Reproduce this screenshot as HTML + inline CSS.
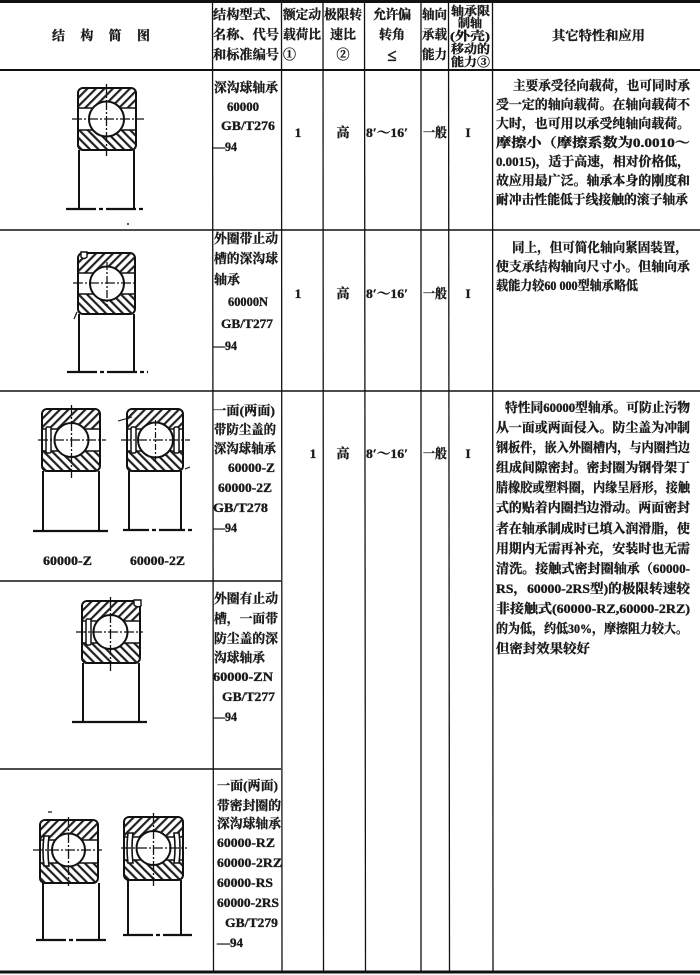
<!DOCTYPE html>
<html><head><meta charset="utf-8">
<style>
html,body{margin:0;padding:0;background:#fff;width:700px;height:975px;overflow:hidden;}
svg{display:block;}
text{stroke:#1a1a1a;stroke-width:0.35px;}
</style></head><body>
<svg width="700" height="975" viewBox="0 0 700 975" xmlns="http://www.w3.org/2000/svg" font-family="'Liberation Serif','Noto Serif CJK SC',serif" font-weight="bold" font-size="13">
<defs>
<pattern id="hf" patternUnits="userSpaceOnUse" width="6" height="6" patternTransform="rotate(45)"><rect x="0" y="0" width="2.2" height="6" fill="#222"/></pattern>
<pattern id="hb" patternUnits="userSpaceOnUse" width="6" height="6" patternTransform="rotate(-45)"><rect x="0" y="0" width="2.2" height="6" fill="#222"/></pattern>
</defs>
<rect x="0" y="0" width="700" height="975" fill="#fff"/>

<!-- table lines -->
<g stroke="#111" fill="none">
<line x1="0" y1="1.5" x2="700" y2="1.5" stroke-width="3"/>
<line x1="0" y1="70" x2="700" y2="70" stroke-width="2"/>
<line x1="0" y1="230" x2="700" y2="230" stroke-width="1.6"/>
<line x1="0" y1="391" x2="700" y2="391" stroke-width="1.6"/>
<line x1="0" y1="581" x2="281" y2="581" stroke-width="1.4"/>
<line x1="0" y1="769" x2="281" y2="769" stroke-width="1.4"/>
<line x1="0" y1="972" x2="700" y2="972" stroke-width="3"/>
<g stroke-width="1.3">
<line x1="212.5" y1="3" x2="213.5" y2="971"/>
<line x1="281.5" y1="3" x2="282" y2="971"/>
<line x1="323" y1="3" x2="323.5" y2="971"/>
<line x1="364.5" y1="3" x2="365.5" y2="971"/>
<line x1="421" y1="3" x2="421" y2="971"/>
<line x1="448.5" y1="3" x2="449.5" y2="971"/>
<line x1="492.5" y1="3" x2="493" y2="971"/>
</g>
</g>

<!-- header -->
<g fill="#1a1a1a">
<text x="52" y="40" textLength="98" lengthAdjust="spacing">结构简图</text>
<text x="213" y="19" textLength="66" lengthAdjust="spacingAndGlyphs">结构型式、</text>
<text x="213" y="39" textLength="66" lengthAdjust="spacingAndGlyphs">名称、代号</text>
<text x="213" y="59" textLength="66" lengthAdjust="spacingAndGlyphs">和标准编号</text>
<text x="283" y="19" textLength="38" lengthAdjust="spacingAndGlyphs">额定动</text>
<text x="283" y="39" textLength="38" lengthAdjust="spacingAndGlyphs">载荷比</text>
<text x="283" y="59">①</text>
<text x="324" y="19" textLength="38" lengthAdjust="spacingAndGlyphs">极限转</text>
<text x="343" y="39" text-anchor="middle">速比</text>
<text x="343" y="59" text-anchor="middle">②</text>
<text x="373" y="19" textLength="38" lengthAdjust="spacing">允许偏</text>
<text x="392" y="39" text-anchor="middle">转角</text>
<text x="392" y="61" text-anchor="middle" font-size="17">≤</text>
<text x="422" y="19" textLength="25" lengthAdjust="spacingAndGlyphs">轴向</text>
<text x="422" y="39" textLength="25" lengthAdjust="spacingAndGlyphs">承载</text>
<text x="422" y="59" textLength="25" lengthAdjust="spacingAndGlyphs">能力</text>
<g font-size="12">
<text x="451" y="15" textLength="39" lengthAdjust="spacingAndGlyphs">轴承限</text>
<text x="470" y="27" text-anchor="middle">制轴</text>
<text x="450" y="40" textLength="40" lengthAdjust="spacingAndGlyphs">(外壳)</text>
<text x="451" y="53" textLength="39" lengthAdjust="spacingAndGlyphs">移动的</text>
<text x="451" y="66" textLength="39" lengthAdjust="spacingAndGlyphs">能力③</text>
</g>
<text x="552" y="40" textLength="93" lengthAdjust="spacingAndGlyphs">其它特性和应用</text>
</g>

<!-- ============ Row 1 ============ -->
<g transform="translate(78,88)">
 <path d="M0,20V5Q0,0 5,0H53Q58,0 58,5V20Z" fill="url(#hf)"/>
 <path d="M0,42H58V57Q58,62 53,62H5Q0,62 0,57Z" fill="url(#hb)"/>
 <rect x="0" y="0" width="58" height="62" rx="5" fill="none" stroke="#111" stroke-width="2"/>
 <path d="M0,20H58M0,42H58" stroke="#111" stroke-width="1.4"/>
 <circle cx="28.5" cy="31" r="17.5" fill="#fff" stroke="#111" stroke-width="2"/>
</g>
<g stroke="#111" fill="none">
 <path d="M72,119H144" stroke-width="1.3" stroke-dasharray="10 2 2 2"/>
 <path d="M106.5,84V156" stroke-width="1.3" stroke-dasharray="10 2 2 2"/>
 <path d="M79,150V209M134,150V209" stroke-width="2"/>
 <path d="M66,209H144" stroke-width="2.2" stroke-dasharray="30 3 4 3"/>
</g>
<circle cx="128" cy="224" r="1" fill="#222"/>

<g fill="#1a1a1a">
<text x="214" y="92" textLength="64" lengthAdjust="spacingAndGlyphs">深沟球轴承</text>
<text x="227" y="111" textLength="32" lengthAdjust="spacingAndGlyphs">60000</text>
<text x="221" y="130" textLength="54" lengthAdjust="spacingAndGlyphs">GB/T276</text>
<text x="213" y="151" textLength="24" lengthAdjust="spacingAndGlyphs">—94</text>
<text x="298" y="137" text-anchor="middle">1</text>
<text x="343" y="137" text-anchor="middle">高</text>
<text x="366" y="137" textLength="42" lengthAdjust="spacingAndGlyphs">8′～16′</text>
<text x="423" y="137" textLength="24" lengthAdjust="spacingAndGlyphs">一般</text>
<text x="468" y="137" text-anchor="middle">I</text>

<text x="513" y="90" textLength="177" lengthAdjust="spacingAndGlyphs">主要承受径向载荷，也可同时承</text>
<text x="496" y="109" textLength="194" lengthAdjust="spacingAndGlyphs">受一定的轴向载荷。在轴向载荷不</text>
<text x="496" y="128" textLength="194" lengthAdjust="spacingAndGlyphs">大时，也可用以承受纯轴向载荷。</text>
<text x="496" y="147" textLength="194" lengthAdjust="spacingAndGlyphs">摩擦小（摩擦系数为0.0010～</text>
<text x="496" y="166" textLength="194" lengthAdjust="spacingAndGlyphs">0.0015)，适于高速，相对价格低，</text>
<text x="496" y="185" textLength="194" lengthAdjust="spacingAndGlyphs">故应用最广泛。轴承本身的刚度和</text>
<text x="496" y="204" textLength="192" lengthAdjust="spacingAndGlyphs">耐冲击性能低于线接触的滚子轴承</text>
</g>

<!-- ============ Row 2 ============ -->
<g transform="translate(78,253)">
 <path d="M0,20V5Q0,0 5,0H52Q57,0 57,5V20Z" fill="url(#hf)"/>
 <path d="M0,41H57V56Q57,61 52,61H5Q0,61 0,56Z" fill="url(#hb)"/>
 <rect x="0" y="0" width="57" height="61" rx="5" fill="none" stroke="#111" stroke-width="2"/>
 <path d="M0,20H57M0,41H57" stroke="#111" stroke-width="1.4"/>
 <path d="M3,-1 V4 Q6,7 9,4 V-1Z" fill="#fff" stroke="#111" stroke-width="1.4"/>
 <circle cx="29" cy="30.5" r="17" fill="#fff" stroke="#111" stroke-width="2"/>
</g>
<g stroke="#111" fill="none">
 <path d="M73,283H137" stroke-width="1.3" stroke-dasharray="10 2 2 2"/>
 <path d="M107,262V306" stroke-width="1.3" stroke-dasharray="8 2 2 2"/>
 <path d="M79,314V372M134,314V372" stroke-width="2"/>
 <path d="M67,372H148" stroke-width="2.2" stroke-dasharray="30 3 4 3"/>
 <path d="M74,319L77,312" stroke-width="1.2"/>
</g>

<g fill="#1a1a1a">
<text x="214" y="243" textLength="64" lengthAdjust="spacingAndGlyphs">外圈带止动</text>
<text x="214" y="263" textLength="64" lengthAdjust="spacingAndGlyphs">槽的深沟球</text>
<text x="214" y="284" textLength="26" lengthAdjust="spacingAndGlyphs">轴承</text>
<text x="228" y="306" textLength="40" lengthAdjust="spacingAndGlyphs">60000N</text>
<text x="221" y="328" textLength="52" lengthAdjust="spacingAndGlyphs">GB/T277</text>
<text x="213" y="350" textLength="24" lengthAdjust="spacingAndGlyphs">—94</text>
<text x="298" y="298" text-anchor="middle">1</text>
<text x="343" y="298" text-anchor="middle">高</text>
<text x="366" y="298" textLength="42" lengthAdjust="spacingAndGlyphs">8′～16′</text>
<text x="423" y="298" textLength="24" lengthAdjust="spacingAndGlyphs">一般</text>
<text x="468" y="298" text-anchor="middle">I</text>

<text x="512" y="252" textLength="176" lengthAdjust="spacingAndGlyphs">同上，但可简化轴向紧固装置，</text>
<text x="496" y="271" textLength="194" lengthAdjust="spacingAndGlyphs">使支承结构轴向尺寸小。但轴向承</text>
<text x="496" y="290" textLength="142" lengthAdjust="spacingAndGlyphs">载能力较60 000型轴承略低</text>
</g>

<!-- ============ Row 3 ============ -->
<g transform="translate(42,409)">
 <path d="M0,20V5Q0,0 5,0H53Q58,0 58,5V20Z" fill="url(#hf)"/>
 <path d="M0,42H58V57Q58,62 53,62H5Q0,62 0,57Z" fill="url(#hb)"/>
 <rect x="0" y="0" width="58" height="62" rx="5" fill="none" stroke="#111" stroke-width="2"/>
 <path d="M0,20H58M0,42H58" stroke="#111" stroke-width="1.4"/>
 <rect x="4" y="18" width="5" height="26" rx="1.5" fill="#fff" stroke="#111" stroke-width="1.5"/>
 <circle cx="29.5" cy="31" r="17" fill="#fff" stroke="#111" stroke-width="2"/>
</g>
<g stroke="#111" fill="none">
 <path d="M38,440H106" stroke-width="1.3" stroke-dasharray="10 2 2 2"/>
 <path d="M71.5,405V478" stroke-width="1.3" stroke-dasharray="10 2 2 2"/>
 <path d="M43,471V531M99,471V531" stroke-width="2"/>
 <path d="M33,531H108" stroke-width="2.2"/>
</g>
<g transform="translate(127,409)">
 <path d="M0,20V5Q0,0 5,0H51Q56,0 56,5V20Z" fill="url(#hf)"/>
 <path d="M0,42H56V57Q56,62 51,62H5Q0,62 0,57Z" fill="url(#hb)"/>
 <rect x="0" y="0" width="56" height="62" rx="5" fill="none" stroke="#111" stroke-width="2"/>
 <path d="M0,20H56M0,42H56" stroke="#111" stroke-width="1.4"/>
 <rect x="4" y="18" width="5" height="26" rx="1.5" fill="#fff" stroke="#111" stroke-width="1.5"/>
 <rect x="47" y="18" width="5" height="26" rx="1.5" fill="#fff" stroke="#111" stroke-width="1.5"/>
 <circle cx="28.5" cy="31" r="17.5" fill="#fff" stroke="#111" stroke-width="2"/>
</g>
<g stroke="#111" fill="none">
 <path d="M121,440H190" stroke-width="1.3" stroke-dasharray="10 2 2 2"/>
 <path d="M155.5,420V462" stroke-width="1.2" stroke-dasharray="6 2 2 2"/>
 <path d="M129,471V530M181,471V530" stroke-width="2"/>
 <path d="M123,530H194" stroke-width="2.2" stroke-dasharray="26 3 4 3"/>
 <path d="M118,421L132,417" stroke-width="1.1"/>
 <path d="M185,469L190,467" stroke-width="1.1"/>
</g>

<g fill="#1a1a1a">
<text x="43" y="565" textLength="49" lengthAdjust="spacingAndGlyphs">60000-Z</text>
<text x="130" y="565" textLength="55" lengthAdjust="spacingAndGlyphs">60000-2Z</text>

<text x="213" y="415" textLength="62" lengthAdjust="spacingAndGlyphs">一面(两面)</text>
<text x="214" y="434" textLength="62" lengthAdjust="spacingAndGlyphs">带防尘盖的</text>
<text x="214" y="453" textLength="62" lengthAdjust="spacingAndGlyphs">深沟球轴承</text>
<text x="228" y="472" textLength="47" lengthAdjust="spacingAndGlyphs">60000-Z</text>
<text x="218" y="492" textLength="54" lengthAdjust="spacingAndGlyphs">60000-2Z</text>
<text x="213" y="512" textLength="55" lengthAdjust="spacingAndGlyphs">GB/T278</text>
<text x="213" y="532" textLength="24" lengthAdjust="spacingAndGlyphs">—94</text>

<text x="313" y="458" text-anchor="middle">1</text>
<text x="343" y="458" text-anchor="middle">高</text>
<text x="366" y="458" textLength="42" lengthAdjust="spacingAndGlyphs">8′～16′</text>
<text x="423" y="458" textLength="24" lengthAdjust="spacingAndGlyphs">一般</text>
<text x="468" y="458" text-anchor="middle">I</text>

<text x="505" y="412" textLength="185" lengthAdjust="spacingAndGlyphs">特性同60000型轴承。可防止污物</text>
<text x="496" y="432" textLength="194" lengthAdjust="spacingAndGlyphs">从一面或两面侵入。防尘盖为冲制</text>
<text x="496" y="452" textLength="194" lengthAdjust="spacingAndGlyphs">钢板件，嵌入外圈槽内，与内圈挡边</text>
<text x="496" y="472" textLength="194" lengthAdjust="spacingAndGlyphs">组成间隙密封。密封圈为钢骨架丁</text>
<text x="496" y="492" textLength="194" lengthAdjust="spacingAndGlyphs">腈橡胶或塑料圈，内缘呈唇形，接触</text>
<text x="496" y="512" textLength="194" lengthAdjust="spacingAndGlyphs">式的贴着内圈挡边滑动。两面密封</text>
<text x="496" y="533" textLength="194" lengthAdjust="spacingAndGlyphs">者在轴承制成时已填入润滑脂，使</text>
<text x="496" y="553" textLength="194" lengthAdjust="spacingAndGlyphs">用期内无需再补充，安装时也无需</text>
<text x="496" y="573" textLength="194" lengthAdjust="spacingAndGlyphs">清洗。接触式密封圈轴承（60000-</text>
<text x="496" y="593" textLength="194" lengthAdjust="spacingAndGlyphs">RS，60000-2RS型)的极限转速较</text>
<text x="496" y="613" textLength="194" lengthAdjust="spacingAndGlyphs">非接触式(60000-RZ,60000-2RZ)</text>
<text x="496" y="633" textLength="192" lengthAdjust="spacingAndGlyphs">的为低，约低30%，摩擦阻力较大。</text>
<text x="496" y="653" textLength="94" lengthAdjust="spacingAndGlyphs">但密封效果较好</text>
</g>

<!-- ============ Row 4 ============ -->
<g transform="translate(82,601)">
 <path d="M0,20V5Q0,0 5,0H53Q58,0 58,5V20Z" fill="url(#hf)"/>
 <path d="M0,42H58V57Q58,62 53,62H5Q0,62 0,57Z" fill="url(#hb)"/>
 <rect x="0" y="0" width="58" height="62" rx="5" fill="none" stroke="#111" stroke-width="2"/>
 <path d="M0,20H58M0,42H58" stroke="#111" stroke-width="1.4"/>
 <path d="M52,-1 V4 Q55,7 59,5 V-1Z" fill="#fff" stroke="#111" stroke-width="1.4"/>
 <rect x="4" y="18" width="5" height="26" rx="1.5" fill="#fff" stroke="#111" stroke-width="1.5"/>
 <circle cx="28.5" cy="31" r="17" fill="#fff" stroke="#111" stroke-width="2"/>
</g>
<g stroke="#111" fill="none">
 <path d="M76,632H143" stroke-width="1.3" stroke-dasharray="10 2 2 2"/>
 <path d="M110.5,597V672" stroke-width="1.3" stroke-dasharray="10 2 2 2"/>
 <path d="M83,663V722M139,663V722" stroke-width="2"/>
 <path d="M72,722H147" stroke-width="2.2"/>
</g>

<g fill="#1a1a1a">
<text x="214" y="603" textLength="64" lengthAdjust="spacingAndGlyphs">外圈有止动</text>
<text x="214" y="623" textLength="64" lengthAdjust="spacingAndGlyphs">槽，一面带</text>
<text x="214" y="643" textLength="64" lengthAdjust="spacingAndGlyphs">防尘盖的深</text>
<text x="214" y="662" textLength="51" lengthAdjust="spacingAndGlyphs">沟球轴承</text>
<text x="213" y="681" textLength="60" lengthAdjust="spacingAndGlyphs">60000-ZN</text>
<text x="222" y="701" textLength="53" lengthAdjust="spacingAndGlyphs">GB/T277</text>
<text x="213" y="721" textLength="24" lengthAdjust="spacingAndGlyphs">—94</text>
</g>

<!-- ============ Row 5 ============ -->
<g transform="translate(40,820)">
 <path d="M0,20V5Q0,0 5,0H53Q58,0 58,5V20Z" fill="url(#hf)"/>
 <path d="M0,43H58V58Q58,63 53,63H5Q0,63 0,58Z" fill="url(#hb)"/>
 <rect x="0" y="0" width="58" height="63" rx="5" fill="none" stroke="#111" stroke-width="2"/>
 <path d="M0,20H58M0,43H58" stroke="#111" stroke-width="1.4"/>
 <path d="M4,16 Q2,31 4,46 L9,46 Q7,31 9,16Z" fill="#fff" stroke="#111" stroke-width="1.6"/>
 <circle cx="28.5" cy="30" r="16.5" fill="#fff" stroke="#111" stroke-width="2"/>
</g>
<g stroke="#111" fill="none">
 <path d="M33,850H102" stroke-width="1.3" stroke-dasharray="10 2 2 2"/>
 <path d="M68.5,817V886" stroke-width="1.3" stroke-dasharray="10 2 2 2"/>
 <path d="M43,883V940M99,883V940" stroke-width="2"/>
 <path d="M36,940H108" stroke-width="2.2" stroke-dasharray="30 3 4 3"/>
 <path d="M48,812H52" stroke-width="1.2"/>
</g>
<g transform="translate(124,817)">
 <path d="M0,20V5Q0,0 5,0H54Q59,0 59,5V20Z" fill="url(#hf)"/>
 <path d="M0,43H59V58Q59,63 54,63H5Q0,63 0,58Z" fill="url(#hb)"/>
 <rect x="0" y="0" width="59" height="63" rx="5" fill="none" stroke="#111" stroke-width="2"/>
 <path d="M0,20H59M0,43H59" stroke="#111" stroke-width="1.4"/>
 <path d="M4,16 Q2,31 4,46 L9,46 Q7,31 9,16Z" fill="#fff" stroke="#111" stroke-width="1.6"/>
 <path d="M55,16 Q57,31 55,46 L50,46 Q52,31 50,16Z" fill="#fff" stroke="#111" stroke-width="1.6"/>
 <circle cx="29.5" cy="31" r="17" fill="#fff" stroke="#111" stroke-width="2"/>
</g>
<g stroke="#111" fill="none">
 <path d="M121,848H187" stroke-width="1.3" stroke-dasharray="10 2 2 2"/>
 <path d="M153.5,813V886" stroke-width="1.3" stroke-dasharray="10 2 2 2"/>
 <path d="M128,880V935M181,880V935" stroke-width="2"/>
 <path d="M123,935H192" stroke-width="2.2" stroke-dasharray="30 3 4 3"/>
</g>

<g fill="#1a1a1a">
<text x="217" y="790" textLength="61" lengthAdjust="spacingAndGlyphs">一面(两面)</text>
<text x="217" y="810" textLength="64" lengthAdjust="spacingAndGlyphs">带密封圈的</text>
<text x="217" y="828" textLength="64" lengthAdjust="spacingAndGlyphs">深沟球轴承</text>
<text x="217" y="847" textLength="58" lengthAdjust="spacingAndGlyphs">60000-RZ</text>
<text x="217" y="867" textLength="65" lengthAdjust="spacingAndGlyphs">60000-2RZ</text>
<text x="217" y="887" textLength="56" lengthAdjust="spacingAndGlyphs">60000-RS</text>
<text x="217" y="907" textLength="62" lengthAdjust="spacingAndGlyphs">60000-2RS</text>
<text x="225" y="927" textLength="53" lengthAdjust="spacingAndGlyphs">GB/T279</text>
<text x="217" y="947" textLength="26" lengthAdjust="spacingAndGlyphs">—94</text>
</g>
</svg>
</body></html>
